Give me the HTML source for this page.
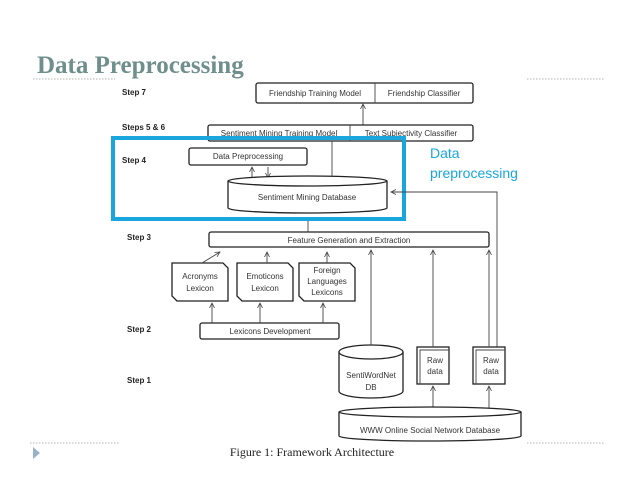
<!DOCTYPE html>
<html><head><meta charset="utf-8"><style>
html,body{margin:0;padding:0;background:#fff;width:638px;height:479px;overflow:hidden}
svg{display:block}
.t{font-family:"Liberation Sans",sans-serif;font-size:8px;fill:#333}
.s{font-family:"Liberation Sans",sans-serif;font-size:8px;font-weight:bold;fill:#222}
.b{fill:#fff;stroke:#222;stroke-width:1.3}
.l{stroke:#444;stroke-width:0.9;fill:none}
</style></head><body>
<svg width="638" height="479" viewBox="0 0 638 479">
<defs><marker id="a" markerWidth="6" markerHeight="6" refX="5" refY="3" orient="auto" markerUnits="userSpaceOnUse"><path d="M0,0.5 L5,3 L0,5.5" fill="none" stroke="#444" stroke-width="0.8"/></marker></defs>
<text x="37" y="73" font-family="Liberation Serif,serif" font-weight="bold" font-size="25" fill="#6e8f8c">Data Preprocessing</text>
<g stroke="#999" stroke-width="0.8" stroke-dasharray="1.5,1.5">
<line x1="33" y1="79" x2="115" y2="79"/><line x1="527" y1="79" x2="605" y2="79"/>
<line x1="30" y1="443" x2="120" y2="443"/><line x1="527" y1="443" x2="605" y2="443"/></g>
<path d="M33,447 L40,453 L33,459Z" fill="#9ab2c6"/>
<text class="s" x="122" y="95">Step 7</text>
<text class="s" x="122" y="130">Steps 5 &amp; 6</text>
<text class="s" x="122" y="163">Step 4</text>
<text class="s" x="127" y="240">Step 3</text>
<text class="s" x="127" y="332">Step 2</text>
<text class="s" x="127" y="383">Step 1</text>
<rect class="b" x="256" y="83" width="217" height="20" rx="2"/>
<line class="l" x1="375" y1="83" x2="375" y2="103"/>
<text class="t" x="315" y="96" text-anchor="middle">Friendship Training Model</text>
<text class="t" x="424" y="96" text-anchor="middle">Friendship Classifier</text>
<line class="l" x1="363" y1="125" x2="363" y2="104" marker-end="url(#a)"/>
<rect class="b" x="208" y="125" width="265" height="16" rx="2"/>
<line class="l" x1="350" y1="125" x2="350" y2="141"/>
<text class="t" x="279" y="136" text-anchor="middle">Sentiment Mining Training Model</text>
<text class="t" x="411" y="136" text-anchor="middle">Text Subjectivity Classifier</text>
<line class="l" x1="332" y1="141" x2="332" y2="178"/>
<rect class="b" x="189" y="148" width="118" height="17" rx="2"/>
<text class="t" x="248" y="159" text-anchor="middle">Data Preprocessing</text>
<line class="l" x1="252" y1="178" x2="252" y2="167" marker-end="url(#a)"/>
<line class="l" x1="268" y1="167" x2="268" y2="178" marker-end="url(#a)"/>
<path class="b" d="M228,181 L228,208 A79.5,5 0 0 0 387,208 L387,181"/>
<ellipse class="b" cx="307.5" cy="181" rx="79.5" ry="5"/>
<text class="t" x="307" y="200" text-anchor="middle">Sentiment Mining Database</text>
<rect x="113" y="138" width="291" height="81" fill="none" stroke="#19a6dc" stroke-width="4"/>
<text x="430" y="158" font-family="Liberation Sans,sans-serif" font-size="14" fill="#19a6dc">Data</text>
<text x="430" y="178" font-family="Liberation Sans,sans-serif" font-size="14" fill="#19a6dc">preprocessing</text>
<polyline class="l" points="497,347 497,192 391,192" marker-end="url(#a)"/>
<line class="l" x1="308" y1="221" x2="308" y2="232"/>
<rect class="b" x="209" y="232" width="280" height="15" rx="2"/>
<text class="t" x="349" y="243" text-anchor="middle">Feature Generation and Extraction</text>
<g>
<path class="b" d="M172,263 L223,263 L228,268 L228,301 L177,301 L172,296Z"/>
<path class="b" d="M237,263 L288,263 L293,268 L293,301 L242,301 L237,296Z"/>
<path class="b" d="M299,263 L350,263 L355,268 L355,301 L304,301 L299,296Z"/>
</g>
<text class="t" x="200" y="279" text-anchor="middle">Acronyms</text>
<text class="t" x="200" y="291" text-anchor="middle">Lexicon</text>
<text class="t" x="265" y="279" text-anchor="middle">Emoticons</text>
<text class="t" x="265" y="291" text-anchor="middle">Lexicon</text>
<text class="t" x="327" y="273" text-anchor="middle">Foreign</text>
<text class="t" x="327" y="284" text-anchor="middle">Languages</text>
<text class="t" x="327" y="295" text-anchor="middle">Lexicons</text>
<line class="l" x1="202" y1="263" x2="220" y2="252" marker-end="url(#a)"/>
<line class="l" x1="267" y1="263" x2="267" y2="252" marker-end="url(#a)"/>
<line class="l" x1="327" y1="263" x2="327" y2="252" marker-end="url(#a)"/>
<rect class="b" x="200" y="323" width="139" height="16" rx="2"/>
<text class="t" x="270" y="334" text-anchor="middle">Lexicons Development</text>
<line class="l" x1="212" y1="323" x2="212" y2="303" marker-end="url(#a)"/>
<line class="l" x1="260" y1="323" x2="260" y2="303" marker-end="url(#a)"/>
<line class="l" x1="323" y1="323" x2="323" y2="303" marker-end="url(#a)"/>
<path class="b" d="M339,352 L339,391 A32,7 0 0 0 403,391 L403,352"/>
<ellipse class="b" cx="371" cy="352" rx="32" ry="7"/>
<text class="t" x="371" y="378" text-anchor="middle">SentiWordNet</text>
<text class="t" x="371" y="390" text-anchor="middle">DB</text>
<line class="l" x1="371" y1="345" x2="371" y2="250" marker-end="url(#a)"/>
<rect class="b" x="417" y="347" width="32" height="37"/>
<polyline class="l" points="420,384 420,350 449,350"/>
<text class="t" x="435" y="363" text-anchor="middle">Raw</text>
<text class="t" x="435" y="374" text-anchor="middle">data</text>
<rect class="b" x="473" y="347" width="32" height="37"/>
<polyline class="l" points="476,384 476,350 505,350"/>
<text class="t" x="491" y="363" text-anchor="middle">Raw</text>
<text class="t" x="491" y="374" text-anchor="middle">data</text>
<line class="l" x1="433" y1="347" x2="433" y2="250" marker-end="url(#a)"/>
<line class="l" x1="489" y1="347" x2="489" y2="250" marker-end="url(#a)"/>
<line class="l" x1="433" y1="408" x2="433" y2="386" marker-end="url(#a)"/>
<line class="l" x1="489" y1="408" x2="489" y2="386" marker-end="url(#a)"/>
<path class="b" d="M339,412 L339,436 A91,5 0 0 0 521,436 L521,412"/>
<ellipse class="b" cx="430" cy="412" rx="91" ry="5"/>
<text class="t" x="430" y="433" text-anchor="middle">WWW    Online Social Network Database</text>
<text x="312" y="456" font-family="Liberation Serif,serif" font-size="12" fill="#222" text-anchor="middle">Figure 1: Framework Architecture</text>
</svg>
</body></html>
